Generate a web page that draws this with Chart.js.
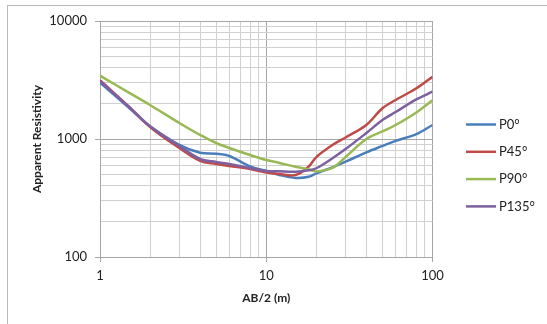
<!DOCTYPE html>
<html>
<head>
<meta charset="utf-8">
<script src="https://cdn.jsdelivr.net/npm/chart.js@4.4.1/dist/chart.umd.min.js"></script>
<style>
  body { margin: 0; background: #fff; }
  #wrap { position: relative; width: 547px; height: 324px; overflow: hidden; }
  #frame { position: absolute; left: 7px; top: 5px; width: 600px; height: 400px; border: 1px solid #b9b9b9; }
  canvas { position: absolute; left: 0; top: 0; }
</style>
</head>
<body>
<div id="wrap">
  <div id="frame"></div>
  <canvas id="chart" width="547" height="324"></canvas>
</div>
<script>
// AB/2 spacing (m)
const spacing = [1, 1.5, 2, 3, 4, 5, 6, 8, 10, 12, 15, 18, 20, 25, 30, 40, 50, 60, 80, 100];
// apparent resistivity per profile direction
const p0   = [3000, 1830, 1280, 890, 765, 750, 718, 585, 536, 496, 468, 478, 512, 575, 642, 770, 873, 965, 1100, 1315];
const p45  = [3150, 1870, 1265, 838, 652, 614, 590, 557, 520, 505, 495, 585, 703, 889, 1030, 1315, 1820, 2140, 2690, 3370];
const p90  = [3440, 2460, 1940, 1368, 1082, 925, 839, 731, 664, 627, 582, 552, 531, 568, 704, 1000, 1160, 1315, 1680, 2130];
const p135 = [3100, 1860, 1280, 873, 677, 638, 614, 568, 536, 532, 529, 543, 565, 686, 821, 1124, 1448, 1694, 2164, 2517];

const seriesNames = ["P0°", "P45°", "P90°", "P135°"];
const seriesColors = ["#4a7ebb", "#be4b48", "#98b954", "#7d60a0"];
const xLabels = [1, 10, 100];
const yLabels = [100, 1000, 10000];

function decadeTicks(majors) {
    let t = [];
    for (let i = 0; i < majors.length - 1; i++) {
        for (let k = 1; k < 10; k++) t.push(majors[i] * k);
    }
    t.push(majors[majors.length - 1]);
    return t;
}

function points(values) {
    return spacing.map((x, i) => ({ x: x, y: values[i] }));
}

const font = { family: "Lato", size: 13 };
const titleFont = { family: "Lato", size: 12, weight: "bold" };

// legend drawn at the right like the original
const sideLegend = {
    id: "sideLegend",
    afterDraw(chart) {
        const ctx = chart.ctx;
        ctx.save();
        ctx.font = "13px Lato";
        ctx.textBaseline = "middle";
        ctx.fillStyle = "#222";
        chart.data.datasets.forEach((ds, i) => {
            const y = 124.5 + i * 27.3;
            ctx.strokeStyle = ds.borderColor;
            ctx.lineWidth = 2.5;
            ctx.beginPath();
            ctx.moveTo(466, y);
            ctx.lineTo(496, y);
            ctx.stroke();
            ctx.fillText(ds.label, 499, y);
        });
        ctx.restore();
    }
};

const allSeries = [p0, p45, p90, p135];

new Chart(document.getElementById("chart"), {
    type: "line",
    data: {
        datasets: allSeries.map((s, i) => ({
            label: seriesNames[i],
            data: points(s),
            borderColor: seriesColors[i],
            backgroundColor: seriesColors[i],
            borderWidth: 2.5,
            pointRadius: 0,
            tension: 0.35,
            fill: false,
            order: allSeries.length - i
        }))
    },
    options: {
        responsive: false,
        animation: false,
        devicePixelRatio: 1,
        layout: { padding: { left: 28, top: 21, right: 114.5, bottom: 0 } },
        plugins: {
            legend: { display: false },
            tooltip: { enabled: false }
        },
        scales: {
            x: {
                type: "logarithmic",
                min: 1,
                max: 100,
                afterBuildTicks: scale => {
                    scale.ticks = decadeTicks(xLabels).map(v => ({ value: v }));
                },
                afterFit: scale => { scale.height = 67; },
                ticks: {
                    autoSkip: false,
                    maxRotation: 0,
                    padding: 6,
                    color: "#222",
                    font: font,
                    callback: v => xLabels.includes(v) ? String(v) : ""
                },
                grid: {
                    color: c => xLabels.includes(c.tick.value) ? "#a6a6a6" : "#d0d0d0",
                    tickColor: c => xLabels.includes(c.tick.value) ? "#a6a6a6" : "rgba(0,0,0,0)",
                    tickLength: 5
                },
                border: { color: "#a6a6a6" },
                title: {
                    display: true,
                    text: "AB/2 (m)",
                    color: "#222",
                    font: titleFont,
                    padding: { top: 4, bottom: 19 }
                }
            },
            y: {
                type: "logarithmic",
                min: 100,
                max: 10000,
                afterBuildTicks: scale => {
                    scale.ticks = decadeTicks(yLabels).map(v => ({ value: v }));
                },
                afterFit: scale => { scale.width = 72; },
                ticks: {
                    autoSkip: false,
                    padding: 8,
                    color: "#222",
                    font: font,
                    callback: v => yLabels.includes(v) ? String(v) : ""
                },
                grid: {
                    color: c => yLabels.includes(c.tick.value) ? "#a6a6a6" : "#d0d0d0",
                    tickColor: c => yLabels.includes(c.tick.value) ? "#a6a6a6" : "rgba(0,0,0,0)",
                    tickLength: 5
                },
                border: { color: "#a6a6a6" },
                title: {
                    display: true,
                    text: "Apparent Resistivity",
                    color: "#222",
                    font: titleFont,
                    padding: { top: 2, bottom: 4 }
                }
            }
        }
    },
    plugins: [sideLegend]
});
</script>
</body>
</html>
